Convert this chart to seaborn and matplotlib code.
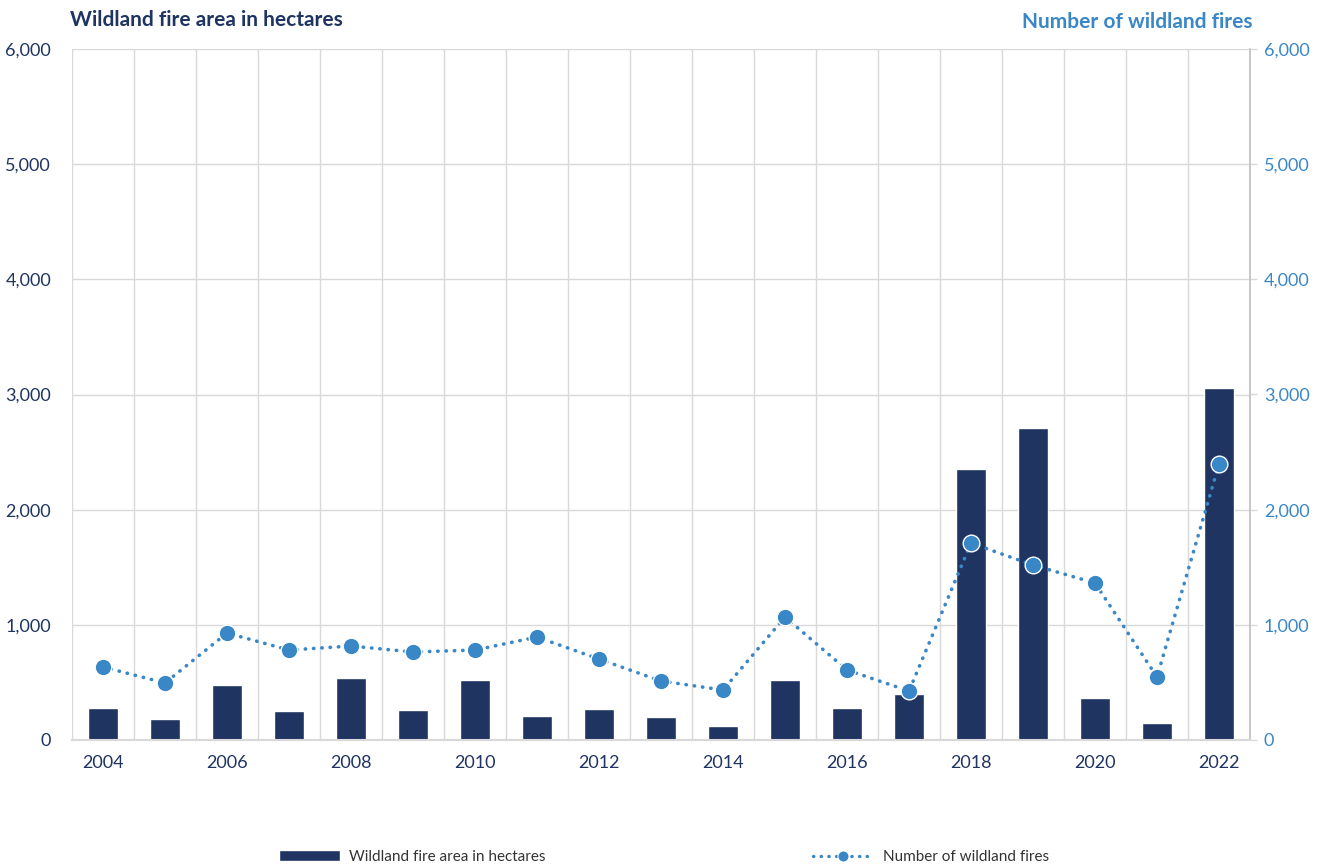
import numpy as np
import pandas as pd
import seaborn as sns
from matplotlib import pyplot as plt
from matplotlib.lines import Line2D
from matplotlib.patches import Patch

years = list(range(2004, 2023))
area_ha = [278, 182, 477, 252, 538, 260, 521, 208, 269, 200, 122, 521, 278, 399, 2352, 2708, 365, 148, 3056]
n_fires = [634, 495, 929, 781, 816, 764, 781, 894, 703, 512, 434, 1068, 608, 425, 1710, 1519, 1363, 547, 2396]

navy = '#1f3461'
blue = '#3a87c8'
grid = '#d9d9d9'
dots = (0, (0.1, 2.2))

sns.set_theme(style='white')
plt.rcParams['font.family'] = ['Lato', 'DejaVu Sans']

df = pd.DataFrame({'year': [str(y) for y in years], 'area': area_ha, 'fires': n_fires})
df['pos'] = np.arange(len(df))

fig = plt.figure(figsize=(13.28, 8.65), dpi=100)
ax = fig.add_axes([72/1328, 1-740/865, 1178/1328, 691/865])

sns.barplot(data=df, x='year', y='area', color=navy, width=0.48, saturation=1, ax=ax, zorder=3)

ax2 = ax.twinx()
sns.lineplot(data=df, x='pos', y='fires', color=blue, linestyle=dots, linewidth=2.6,
             dash_capstyle='round', marker='o', markersize=12, markerfacecolor=blue,
             markeredgecolor='white', markeredgewidth=1.0, ax=ax2, zorder=4)

for a in (ax, ax2):
    a.set_ylim(0, 6000)
    a.set_xlim(-0.5, len(years) - 0.5)
    a.set_yticks(range(0, 6001, 1000))
    a.set_xlabel('')
    a.set_ylabel('')

# x ticks: labels every other year, grid on category boundaries
ax.set_xticks(df['pos'][::2])
ax.set_xticklabels(df['year'][::2])
ax.set_xticks(np.arange(-0.5, len(years)), minor=True)
ax.tick_params(axis='x', which='major', length=0, pad=11, labelsize=13, labelcolor=navy)
ax.tick_params(axis='x', which='minor', length=6, width=1, color=grid, direction='out')
ax.grid(True, which='minor', axis='x', color=grid, linewidth=1)
ax.grid(True, which='major', axis='y', color=grid, linewidth=1)
ax.set_axisbelow(True)

ax.set_yticklabels([f'{v:,}' for v in range(0, 6001, 1000)])
ax.tick_params(axis='y', length=0, pad=15, labelsize=13, labelcolor=navy)
ax2.set_yticklabels([f'{v:,}' for v in range(0, 6001, 1000)])
ax2.tick_params(axis='y', length=5, width=1, color=grid, pad=5, labelsize=13, labelcolor=blue)

for a in (ax, ax2):
    for s in ('top', 'left'):
        a.spines[s].set_visible(False)
    a.spines['bottom'].set_color(grid)
    a.spines['bottom'].set_linewidth(1.5)
    a.spines['right'].set_color('#bfbfbf')
    a.spines['right'].set_linewidth(1.2)
ax.spines['right'].set_visible(False)

fig.text(70/1328, 1-20/865, 'Wildland fire area in hectares', color=navy, fontsize=15,
         fontweight='bold', ha='left', va='center')
fig.text(1253/1328, 1-22/865, 'Number of wildland fires', color=blue, fontsize=15,
         fontweight='bold', ha='right', va='center')

handles = [Patch(facecolor=navy, label='Wildland fire area in hectares'),
           Line2D([], [], color=blue, linestyle=dots, linewidth=2.4, dash_capstyle='round',
                  marker='o', markersize=8, markeredgecolor='white', markeredgewidth=0.8,
                  label='Number of wildland fires')]
fig.legend(handles=handles, loc='center', bbox_to_anchor=(0.5, 1-857/865), ncol=2,
           frameon=False, fontsize=11, handlelength=4.0, handleheight=0.7,
           columnspacing=17.5, handletextpad=0.6, labelcolor='#333333')

fig.savefig('out.png', dpi=100)
